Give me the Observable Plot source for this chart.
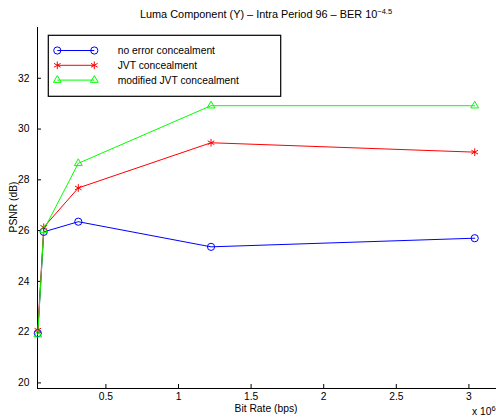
<!DOCTYPE html>
<html>
<head>
<meta charset="utf-8">
<script src="https://cdn.jsdelivr.net/npm/d3@7"></script>
<script src="https://cdn.jsdelivr.net/npm/@observablehq/plot@0.6"></script>
<style>
  body { margin: 0; background: #fff; }
  #wrap { position: relative; width: 496px; height: 418px; font-family: "Liberation Sans", Arial, Helvetica, sans-serif; color: #000; overflow: hidden; }
  .lbl { position: absolute; font-size: 10.3px; white-space: nowrap; line-height: 1; }
  sup { font-size: 7.5px; vertical-align: 0; position: relative; top: -4px; }
</style>
</head>
<body>
<div id="wrap"></div>
<script>
// Bit rate in units of 10^6 bps
const bitRate = [0.031, 0.072, 0.31, 1.224, 3.04];
const seriesNames = ["no error concealment", "JVT concealment", "modified JVT concealment"];
const psnrNoConceal = [21.96, 25.95, 26.35, 25.36, 25.70];
const psnrJVT = [22.08, 26.13, 27.68, 29.46, 29.09];
const psnrModJVT = [21.90, 26.02, 28.65, 30.92, 30.92];
const xTicks = [0.5, 1, 1.5, 2, 2.5, 3];
const yTicks = [20, 22, 24, 26, 28, 30, 32];
const colors = ["#0000ff", "#ff0000", "#00ff00"];
const symbols = ["circle", "asterisk", "triangle"];
const markerR = [3.6, 3.6, 2.9];

const allSeries = [psnrNoConceal, psnrJVT, psnrModJVT];
const rows = allSeries.flatMap((vals, i) => vals.map((v, j) => ({ series: seriesNames[i], x: bitRate[j], y: v })));

const xDomain = [0.029, 3.19];
const yDomain = [19.78, 34];

const plot = Plot.plot({
  width: 496,
  height: 418,
  marginTop: 27,
  marginLeft: 37,
  marginRight: 0,
  marginBottom: 30,
  style: { fontFamily: '"Liberation Sans", Arial, Helvetica, sans-serif', fontSize: "10.3px", background: "#fff" },
  x: { domain: xDomain, ticks: xTicks },
  y: { domain: yDomain, ticks: yTicks },
  marks: [
    Plot.axisX({ ticks: xTicks, tickSize: 0, tickPadding: 4, tickFormat: d => String(d), label: null, fontSize: 10.3 }),
    Plot.axisX({ ticks: xTicks, text: null, tickSize: -4, label: null, stroke: "#000", strokeOpacity: 1 }),
    Plot.axisY({ ticks: yTicks, tickSize: 0, tickPadding: 8, label: null, fontSize: 10.3 }),
    Plot.axisY({ ticks: yTicks, text: null, tickSize: -4, label: null, stroke: "#000", strokeOpacity: 1 }),
    Plot.ruleY([yDomain[0]], { stroke: "#000", strokeWidth: 1 }),
    Plot.ruleX([xDomain[0]], { stroke: "#000", strokeWidth: 1 }),
    ...seriesNames.map((name, i) =>
      Plot.line(rows.filter(d => d.series === name), { x: "x", y: "y", stroke: colors[i], strokeWidth: 1 })
    ),
    ...seriesNames.map((name, i) =>
      Plot.dot(rows.filter(d => d.series === name), {
        x: "x", y: "y", stroke: colors[i], fill: "none",
        symbol: symbols[i], r: markerR[i], strokeWidth: 1
      })
    )
  ]
});

const wrap = document.getElementById("wrap");
plot.style.position = "absolute";
plot.style.left = "0px";
plot.style.top = "0px";
wrap.appendChild(plot);

function addLabel(html, css) {
  const d = document.createElement("div");
  d.className = "lbl";
  d.innerHTML = html;
  Object.assign(d.style, css);
  wrap.appendChild(d);
  return d;
}
// Title
addLabel("Luma Component (Y) \u2013 Intra Period 96 \u2013 BER 10<sup>\u22124.5</sup>", { left: "266px", top: "9px", fontSize: "10.9px", transform: "translateX(-50%)" });
// X label
addLabel("Bit Rate (bps)", { left: "266px", top: "403.5px", transform: "translateX(-50%)" });
// x 10^6
addLabel("x 10<sup>6</sup>", { left: "472px", top: "407px" });
// Y label
addLabel("PSNR (dB)", { left: "14px", top: "207px", transform: "translate(-50%,-50%) rotate(-90deg)" });

// Legend
const lg = d3.select(wrap).append("svg")
  .attr("width", 240).attr("height", 66)
  .style("position", "absolute").style("left", "47px").style("top", "34px");
lg.append("rect").attr("x", 1.3).attr("y", 1.3).attr("width", 232.4).attr("height", 61).attr("fill", "#fff").attr("stroke", "#000").attr("stroke-width", 1.2);
const symMap = { circle: d3.symbolCircle, asterisk: d3.symbolAsterisk, triangle: d3.symbolTriangle };
seriesNames.forEach((name, i) => {
  const y = 16.5 + i * 14.8;
  lg.append("line").attr("x1", 10.3).attr("x2", 47.3).attr("y1", y).attr("y2", y).attr("stroke", colors[i]).attr("stroke-width", 1);
  [10.3, 47.3].forEach(x => {
    const r = markerR[i];
    const size = Math.PI * r * r;
    lg.append("path").attr("d", d3.symbol(symMap[symbols[i]], size)()).attr("transform", `translate(${x},${y})`)
      .attr("fill", "none").attr("stroke", colors[i]).attr("stroke-width", 1);
  });
  lg.append("text").attr("x", 70.7).attr("y", y).attr("dy", "0.35em").attr("font-size", "10.3px")
    .attr("font-family", '"Liberation Sans", Arial, Helvetica, sans-serif').text(name);
});
</script>
</body>
</html>
